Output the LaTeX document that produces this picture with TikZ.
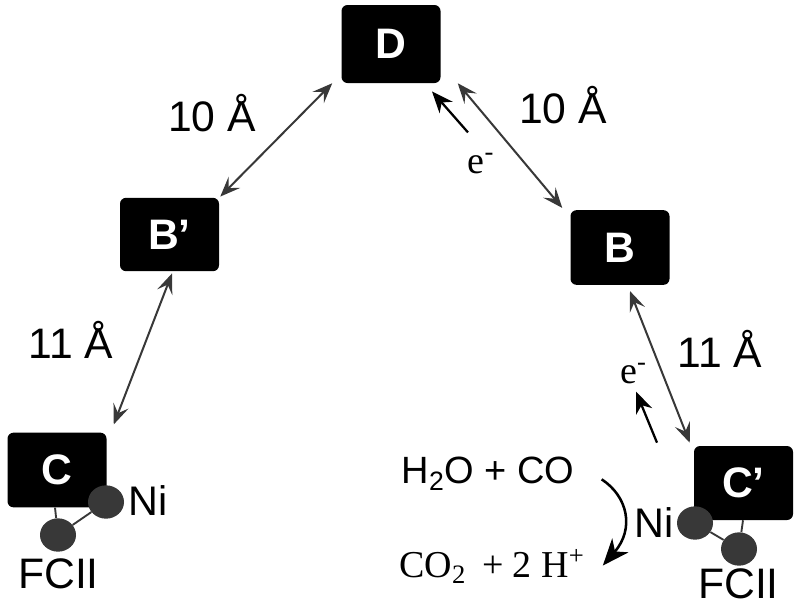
\documentclass[tikz,border=0pt]{standalone}
\usepackage{fontspec}
\setmainfont{Liberation Serif}
\setsansfont{Liberation Sans}
\usetikzlibrary{arrows.meta,calc,shapes.geometric}
\tikzset{
  site/.style={fill=black,rounded corners=4.5pt,inner sep=0pt,minimum width=74.25pt,minimum height=56pt,text=white,font=\sffamily\bfseries\fontsize{32}{36}\selectfont},
  metal/.style={ellipse,fill=black!78,inner sep=0pt,minimum width=27pt,minimum height=25pt},
  link/.style={line width=1.4pt,draw=black!78},
  dist/.style={line width=1.5pt,draw=black!78,{Stealth[length=15pt,width=12pt,inset=6pt]}-{Stealth[length=15pt,width=12pt,inset=6pt]}},
  flow/.style={line width=1.7pt,draw=black,-{Stealth[length=16pt,width=13pt,inset=5pt]}},
  bend flow/.style={line width=1.9pt,draw=black,-{Stealth[length=20pt,width=16pt,inset=6pt]}},
  lab/.style={anchor=base,inner sep=0pt,font=\sffamily\fontsize{32}{36}\selectfont},
  chem/.style={anchor=base,inner sep=0pt,font=\sffamily\fontsize{28.5}{34}\selectfont},
  serif/.style={anchor=base,inner sep=0pt,font=\rmfamily\fontsize{28.5}{34}\selectfont},
}
\begin{document}
\begin{tikzpicture}[x=0.75pt,y=-0.75pt]
\useasboundingbox (0,0) rectangle (800,608);
\fill[white] (0,0) rectangle (800,608);
% boxes
\node[site,minimum height=58.5pt] (D) at (391,44) {D};
\node[site] (B) at (620,247.5) {B};
\node[site,minimum height=55pt] (Bp) at (169.5,234.5) {B’};
\node[site] (C) at (57,470) {C};
\node[site,minimum height=55.5pt] (Cp) at (743.5,483) {C’};
% metal centres
\node[metal] (NiL) at (106,502) {};
\node[metal] (FeL) at (58,535) {};
\node[metal] (NiR) at (695,523) {};
\node[metal] (FeR) at (739,549) {};
\draw[link] (NiL) -- (FeL);
\draw[link] ([shift={(-2,0)}]C.south) -- (FeL);
\draw[link] (NiR) -- (FeR);
\draw[link] ([shift={(-0.5,0)}]Cp.south) -- (FeR);
% distances
\draw[dist] ([shift={(17,0)}]D.south east) -- ([shift={(-8,-2)}]B.north west);
\draw[dist] ([shift={(-9,0)}]D.south west) -- ([shift={(1,-1)}]Bp.north east);
\draw[dist] ([shift={(2.5,2)}]Bp.south) -- ([shift={(7,-8)}]C.north east);
\draw[dist] ([shift={(10,6)}]B.south) -- ([shift={(-4,-3)}]Cp.north west);
% electron flow
\node[serif] (e1) at (481,173) {e\textsuperscript{-}};
\node[serif] (e2) at (633.5,383) {e\textsuperscript{-}};
\draw[flow] ([shift={(-13,-21)}]e1.north) -- ([shift={(-49,-62)}]e1.north);
\draw[flow] ([shift={(23.5,59)}]e2.south) -- ([shift={(2.5,8)}]e2.south);
% labels
\node[lab] (l1) at (212,131) {10 Å};
\node[lab] (l2) at (563,123) {10 Å};
\node[lab] (l3) at (71,358) {11 Å};
\node[lab] (l4) at (720,367) {11 Å};
\node[lab,font=\sffamily\fontsize{31}{36}\selectfont] (nl) at (148.5,515) {Ni};
\node[lab] (fl) at (58.5,588) {FCII};
\node[lab,font=\sffamily\fontsize{31}{36}\selectfont] (nr) at (654,537) {Ni};
\node[lab] (fr) at (738.5,598) {FCII};
\node[chem] (reac) at (488,483) {H\textsubscript{2}O + CO};
\node[serif] (prod) at (492,577) {CO\textsubscript{2}\, + 2 H\textsuperscript{+}};
\draw[bend flow] ([shift={(27,6)}]reac.east) .. controls +(26,17) and +(32,-37) .. ([shift={(18,-1)}]prod.east);
\end{tikzpicture}
\end{document}
